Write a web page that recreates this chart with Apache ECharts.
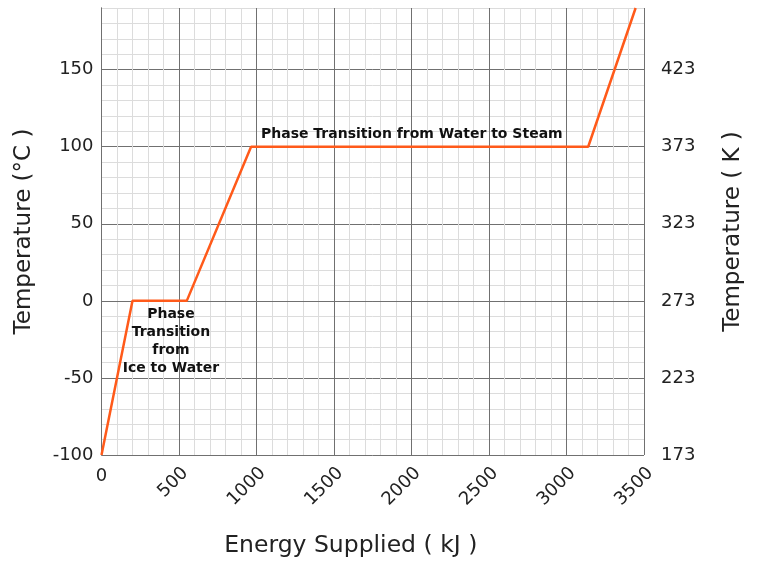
<!DOCTYPE html>
<html>
<head>
<meta charset="utf-8">
<script src="https://cdn.jsdelivr.net/npm/echarts@6/dist/echarts.min.js"></script>
<style>html,body{margin:0;padding:0;background:#fff;}#c{width:757px;height:563px;}</style>
</head>
<body>
<div id="c"></div>
<script>
// Data (energy kJ, temperature °C)
var energy = [0, 200, 550, 965, 3140, 3446];
var tempC = [-100, 0, 0, 100, 100, 190];
var xTicks = [500, 1000, 1500, 2000, 2500, 3000, 3500];
var leftTicks = [-100, -50, 0, 50, 100, 150];
var rightTicks = [173, 223, 273, 323, 373, 423];
var notes = [
  {text: 'Phase Transition from Water to Steam', x: 2002, y: 108},
  {text: 'Phase\nTransition\nfrom\nIce to Water', x: 448, y: -26}
];

var FONT = 'DejaVu Sans';
var MAJOR = '#707070', MINOR = '#dcdcdc';
var chart = echarts.init(document.getElementById('c'));
var pts = energy.map(function (e, i) { return [e, tempC[i]]; });

chart.setOption({
  animation: false,
  textStyle: {fontFamily: FONT},
  grid: {left: 101.5, right: 113, top: 8, bottom: 105},
  xAxis: [{
    type: 'value', min: 0, max: 3500, interval: 100,
    name: 'Energy Supplied ( kJ )', nameLocation: 'middle', nameGap: 79,
    nameTextStyle: {fontSize: 23.5, color: '#222', fontFamily: FONT, padding: [0, 44, 0, 0]},
    axisLine: {show: true, lineStyle: {color: MAJOR, width: 1}},
    axisTick: {show: false},
    axisLabel: {
      rotate: 45, fontSize: 18, color: '#222', margin: 9, fontFamily: FONT,
      verticalAlign: 'top',
      formatter: function (v) { return xTicks.indexOf(v) >= 0 ? String(v) : ''; }
    },
    splitLine: {show: true, lineStyle: {color: [MAJOR, MINOR, MINOR, MINOR, MINOR], width: 1}}
  }, {
    type: 'value', min: 0, max: 3500, interval: 3500, position: 'bottom',
    axisLine: {show: false}, axisTick: {show: false}, splitLine: {show: false},
    axisLabel: {fontSize: 18, color: '#222', margin: 12, fontFamily: FONT,
      formatter: function (v) { return v === 0 ? '0' : ''; }}
  }],
  yAxis: [{
    type: 'value', min: -100, max: 190, interval: 10,
    name: 'Temperature (°C )', nameLocation: 'middle', nameGap: 66, nameRotate: 90,
    nameTextStyle: {fontSize: 23, color: '#222', fontFamily: FONT},
    axisLine: {show: true, lineStyle: {color: MAJOR, width: 1}},
    axisTick: {show: false},
    axisLabel: {fontSize: 18, color: '#222', margin: 8, fontFamily: FONT,
      formatter: function (v) { return leftTicks.indexOf(v) >= 0 ? String(v) : ''; }},
    splitLine: {show: true, lineStyle: {color: [MAJOR, MINOR, MINOR, MINOR, MINOR], width: 1}}
  }, {
    type: 'value', min: 173, max: 463, interval: 50, position: 'right',
    name: 'Temperature ( K )', nameLocation: 'middle', nameGap: 78, nameRotate: 90,
    nameTextStyle: {fontSize: 23, color: '#222', fontFamily: FONT},
    axisLine: {show: true, lineStyle: {color: MAJOR, width: 1}},
    axisTick: {show: false}, splitLine: {show: false},
    axisLabel: {fontSize: 18, color: '#222', margin: 17, fontFamily: FONT,
      formatter: function (v) { return rightTicks.indexOf(v) >= 0 ? String(v) : ''; }}
  }],
  series: [{
    type: 'line', data: pts, xAxisIndex: 0, yAxisIndex: 0,
    symbol: 'none', clip: true,
    lineStyle: {color: '#ff5a1a', width: 2.5},
    markPoint: {
      symbol: 'circle', symbolSize: 0,
      label: {show: true, position: 'inside', fontFamily: FONT, fontWeight: 'bold',
        fontSize: 14, color: '#111', lineHeight: 18, align: 'center',
        formatter: function (p) { return p.name; }},
      data: notes.map(function (n) { return {name: n.text, coord: [n.x, n.y]}; })
    }
  }]
});
</script>
</body>
</html>
